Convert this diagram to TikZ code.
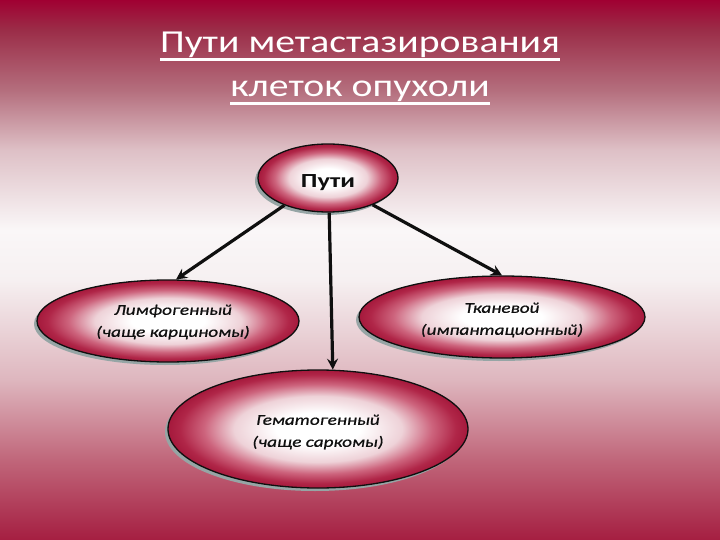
\documentclass[tikz,border=0pt]{standalone}
\usepackage{fontspec}
\usepackage{graphicx}
\setmainfont{Carlito}
\usetikzlibrary{shapes.geometric,arrows.meta,shadows}
\definecolor{bgA}{RGB}{160,0,50}
\definecolor{bgB}{RGB}{155,45,72}
\definecolor{bgC}{RGB}{180,110,125}
\definecolor{bgD}{RGB}{222,192,198}
\definecolor{bgE}{RGB}{250,247,248}
\definecolor{bgF}{RGB}{246,240,241}
\definecolor{bgG}{RGB}{222,182,190}
\definecolor{bgH}{RGB}{192,102,122}
\definecolor{bgI}{RGB}{165,30,65}
\definecolor{elB}{RGB}{238,210,216}
\definecolor{elC}{RGB}{205,100,125}
\definecolor{elD}{RGB}{176,38,72}
\definecolor{elE}{RGB}{165,25,60}
\definecolor{shd}{RGB}{150,165,165}
\definecolor{ink}{RGB}{15,15,15}
\newcommand{\xwide}[2]{\scalebox{#1}[1]{#2}}
\pgfdeclareverticalshading{bgsh}{100bp}{color(0bp)=(bgI); color(25bp)=(bgI); color(32.41bp)=(bgH); color(39.81bp)=(bgG); color(49.07bp)=(bgF); color(53.7bp)=(bgE); color(61.11bp)=(bgD); color(66.67bp)=(bgC); color(72.22bp)=(bgB); color(75bp)=(bgA); color(100bp)=(bgA)}
\pgfdeclareradialshading{ellsh}{\pgfpoint{0bp}{0bp}}{color(0bp)=(white); color(7bp)=(white); color(14bp)=(elB); color(19bp)=(elC); color(23bp)=(elD); color(25bp)=(elE); color(50bp)=(elE)}
\tikzset{
  ellnode/.style={ellipse, inner sep=0pt, shading=ellsh, draw=ink, line width=1.3pt,
    drop shadow={shadow xshift=-3pt, shadow yshift=-3pt, fill=shd, opacity=1}},
  arr/.style={line width=3.2pt, draw=ink, -{Stealth[length=11pt,width=11pt,inset=4pt]}},
  ttl/.style={text=white, font=\fontsize{32}{38}\selectfont, anchor=base, inner sep=0pt},
  uline/.style={draw=white, line width=2.8pt},
  lbl/.style={text=ink, font=\itshape\fontsize{15}{22}\selectfont\addfontfeature{FakeBold=0.6}, align=center, inner sep=0pt}
}
\begin{document}
\begin{tikzpicture}[x=1pt,y=-1pt]
\useasboundingbox (0,0) rectangle (720,540);
\fill[shading=bgsh] (0,0) rectangle (720,540);
% title
\node[ttl] (t1) at (360,53) {\xwide{1.24}{Пути метастазирования}};
\node[ttl] (t2) at (360,97) {\xwide{1.24}{клеток опухоли}};
\draw[uline] ([yshift=-6.5pt]t1.base west) -- ([yshift=-6.5pt]t1.base east);
\draw[uline] ([yshift=-6.5pt]t2.base west) -- ([yshift=-6.5pt]t2.base east);
% ellipses
\node[ellnode, minimum width=140pt, minimum height=68pt] (top) at (328,178) {};
\node[ellnode, minimum width=262pt, minimum height=82pt] (left) at (168,321) {};
\node[ellnode, minimum width=286pt, minimum height=82pt] (right) at (502,317) {};
\node[ellnode, minimum width=300pt, minimum height=118pt] (bot) at (318,429) {};
% labels
\node[text=ink, font=\bfseries\fontsize{20}{24}\selectfont, inner sep=0pt] (ltop) at (328,183) {\xwide{1.32}{Пути}};
\node[lbl] (lleft) at (173,322) {\xwide{1.28}{Лимфогенный}\\\xwide{1.28}{(чаще карциномы)}};
\node[lbl] (lright) at (502,320) {\xwide{1.28}{Тканевой}\\\xwide{1.28}{(импантационный)}};
\node[lbl] (lbot) at (318,432) {\xwide{1.28}{Гематогенный}\\\xwide{1.28}{(чаще саркомы)}};
% connectors
\draw[arr] (top.212) -- (left.79);
\draw[arr] (top.272) -- (bot.76);
\draw[arr] (top.329) -- (right.north);
\end{tikzpicture}
\end{document}
